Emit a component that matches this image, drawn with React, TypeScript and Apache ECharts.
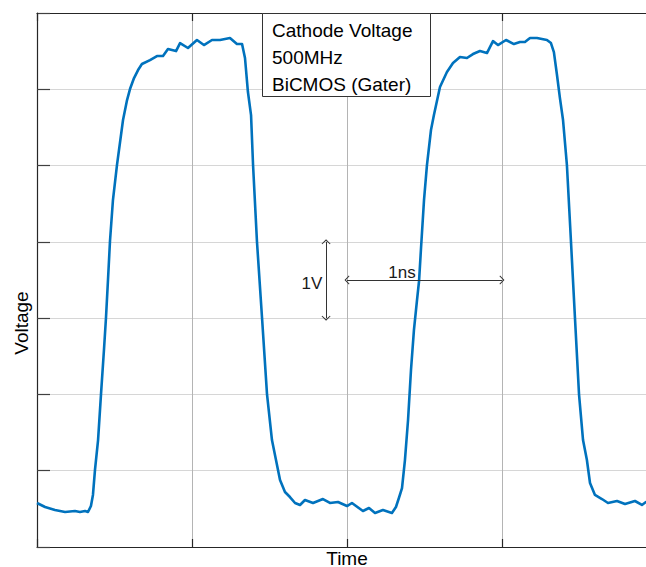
import React, { useEffect, useRef } from "react";
import * as echarts from "echarts";

// Time (ns) and voltage (V) samples
const timeNs: number[] = [
  0, 0.052, 0.116, 0.181, 0.245, 0.277, 0.31, 0.329, 0.348, 0.361, 0.374, 0.394, 0.413, 0.432, 0.445, 0.458,
  0.471, 0.49, 0.516, 0.555, 0.581, 0.6, 0.626, 0.652, 0.677, 0.729, 0.774, 0.813, 0.845, 0.897, 0.923, 0.974,
  1.032, 1.077, 1.129, 1.181, 1.245, 1.29, 1.323, 1.342, 1.361, 1.381, 1.394, 1.419, 1.452, 1.484, 1.516, 1.542,
  1.568, 1.6, 1.632, 1.665, 1.697, 1.729, 1.781, 1.845, 1.89, 1.942, 2.0, 2.032, 2.103, 2.142, 2.181, 2.232,
  2.29, 2.316, 2.335, 2.355, 2.374, 2.394, 2.413, 2.432, 2.452, 2.465, 2.477, 2.497, 2.516, 2.542, 2.561, 2.6,
  2.645, 2.684, 2.729, 2.774, 2.813, 2.858, 2.903, 2.942, 2.974, 3.026, 3.077, 3.116, 3.148, 3.181, 3.226, 3.29,
  3.316, 3.335, 3.355, 3.374, 3.394, 3.419, 3.445, 3.471, 3.497, 3.523, 3.548, 3.568, 3.6, 3.645, 3.684, 3.742,
  3.794, 3.858, 3.903, 3.929, 3.968,
];
const voltage: number[] = [
  0.577, 0.524, 0.485, 0.459, 0.472, 0.459, 0.472, 0.459, 0.537, 0.682, 1.009, 1.402, 2.005, 2.582, 3.002, 3.5,
  4.011, 4.548, 5.007, 5.597, 5.859, 6.003, 6.147, 6.252, 6.331, 6.383, 6.436, 6.436, 6.527, 6.501, 6.606, 6.541,
  6.646, 6.58, 6.646, 6.646, 6.672, 6.593, 6.593, 6.41, 5.964, 5.662, 5.007, 4.011, 3.002, 2.005, 1.402, 1.14,
  0.878, 0.721, 0.655, 0.577, 0.551, 0.616, 0.577, 0.629, 0.577, 0.59, 0.537, 0.577, 0.472, 0.511, 0.446, 0.485,
  0.446, 0.524, 0.642, 0.773, 1.14, 1.665, 2.32, 2.844, 3.238, 3.487, 3.893, 4.548, 5.007, 5.466, 5.662, 6.029,
  6.226, 6.344, 6.423, 6.41, 6.462, 6.501, 6.475, 6.632, 6.58, 6.646, 6.593, 6.619, 6.619, 6.672, 6.672, 6.646,
  6.606, 6.488, 6.187, 5.885, 5.597, 5.007, 4.011, 3.002, 2.005, 1.402, 1.14, 0.839, 0.682, 0.629, 0.577, 0.603,
  0.564, 0.603, 0.551, 0.59, 0.56,
];

// Axis extents (ticks every 1 ns and every 1 V); the plot runs past the right edge of the view
const xMin = 0;
const xMax = 3.968;
const yMin = 0;
const yMax = 7;

// Scale bars: 1V (vertical) and 1ns (horizontal)
const scaleBarV: [number, number][] = [[1.865, 3], [1.865, 4]];
const scaleBarT: [number, number][] = [[2, 3.5], [3, 3.5]];

const legendLines: string[] = ["Cathode Voltage", "500MHz", "BiCMOS (Gater)"];

const FONT = "'Liberation Sans', Arial, Helvetica, sans-serif";
const chevron = "path://M4.5,0 L9,4.4 L8.3,5 L4.5,1.4 L0.7,5 L0,4.4 Z";

export default function App() {
  const ref = useRef<HTMLDivElement>(null);
  useEffect(() => {
    document.body.style.margin = "0";
    document.body.style.overflow = "hidden";
    document.documentElement.style.overflow = "hidden";
    if (!ref.current) return;
    const chart = echarts.init(ref.current, undefined, { renderer: "svg" });
    const data = timeNs.map((t, i) => [t, voltage[i]]);
    chart.setOption({
      animation: false,
      backgroundColor: "#ffffff",
      grid: { left: 37, top: 13, right: 0, bottom: 20 },
      xAxis: [
        {
          type: "value",
          min: xMin,
          max: xMax,
          interval: 1,
          position: "bottom",
          axisLine: { show: true, lineStyle: { color: "#262626", width: 1.2 } },
          axisTick: { show: true, inside: true, length: 8, lineStyle: { color: "#262626", width: 1.2 } },
          axisLabel: { show: false },
          splitLine: { show: true, lineStyle: { color: "#b4b4b4", width: 1 } },
        },
        {
          type: "value",
          min: xMin,
          max: xMax,
          interval: 1,
          position: "top",
          axisLine: { show: true, lineStyle: { color: "#262626", width: 1.2 } },
          axisTick: { show: true, inside: true, length: 8, lineStyle: { color: "#262626", width: 1.2 } },
          axisLabel: { show: false },
          splitLine: { show: false },
        },
      ],
      yAxis: {
        type: "value",
        min: yMin,
        max: yMax,
        interval: 1,
        axisLine: { show: true, lineStyle: { color: "#262626", width: 1.2 } },
        axisTick: { show: true, inside: true, length: 13, lineStyle: { color: "#404040", width: 1.2 } },
        axisLabel: { show: false },
        splitLine: { show: true, lineStyle: { color: "#d6d6d6", width: 1 } },
      },
      series: [
        {
          type: "line",
          data,
          showSymbol: false,
          symbol: "none",
          lineStyle: { color: "#0072BD", width: 2.6, join: "round" },
          z: 3,
          markLine: {
            silent: true,
            symbol: [chevron, chevron],
            symbolSize: [9, 5],
            label: { show: false },
            lineStyle: { color: "#333333", width: 1, type: "solid" },
            data: [
              [{ coord: scaleBarV[0] }, { coord: scaleBarV[1] }],
              [{ coord: scaleBarT[0] }, { coord: scaleBarT[1] }],
            ],
          },
        },
      ],
      graphic: [
        {
          type: "rect",
          shape: { x: 262.5, y: 13.5, width: 168, height: 83 },
          style: { fill: "#ffffff", stroke: "#333333", lineWidth: 1 },
          z: 10,
        },
        ...legendLines.map((t, i) => ({
          type: "text",
          x: 272,
          y: 30 + i * 27,
          z: 11,
          style: {
            text: t,
            fill: "#000000",
            font: `19px ${FONT}`,
            align: "left",
            verticalAlign: "middle",
          },
        })),
        {
          type: "text",
          x: 312,
          y: 283,
          z: 11,
          style: { text: "1V", fill: "#1a1a1a", font: `17px ${FONT}`, align: "center", verticalAlign: "middle" },
        },
        {
          type: "text",
          x: 402,
          y: 272,
          z: 11,
          style: { text: "1ns", fill: "#1a1a1a", font: `17px ${FONT}`, align: "center", verticalAlign: "middle" },
        },
        {
          type: "text",
          x: 347,
          y: 558,
          z: 11,
          style: { text: "Time", fill: "#000000", font: `19px ${FONT}`, align: "center", verticalAlign: "middle" },
        },
        {
          type: "text",
          x: 21,
          y: 323,
          rotation: Math.PI / 2,
          z: 11,
          style: { text: "Voltage", fill: "#000000", font: `19px ${FONT}`, align: "center", verticalAlign: "middle" },
        },
      ],
    });
    return () => chart.dispose();
  }, []);
  return <div ref={ref} style={{ width: 652, height: 567 }} />;
}
